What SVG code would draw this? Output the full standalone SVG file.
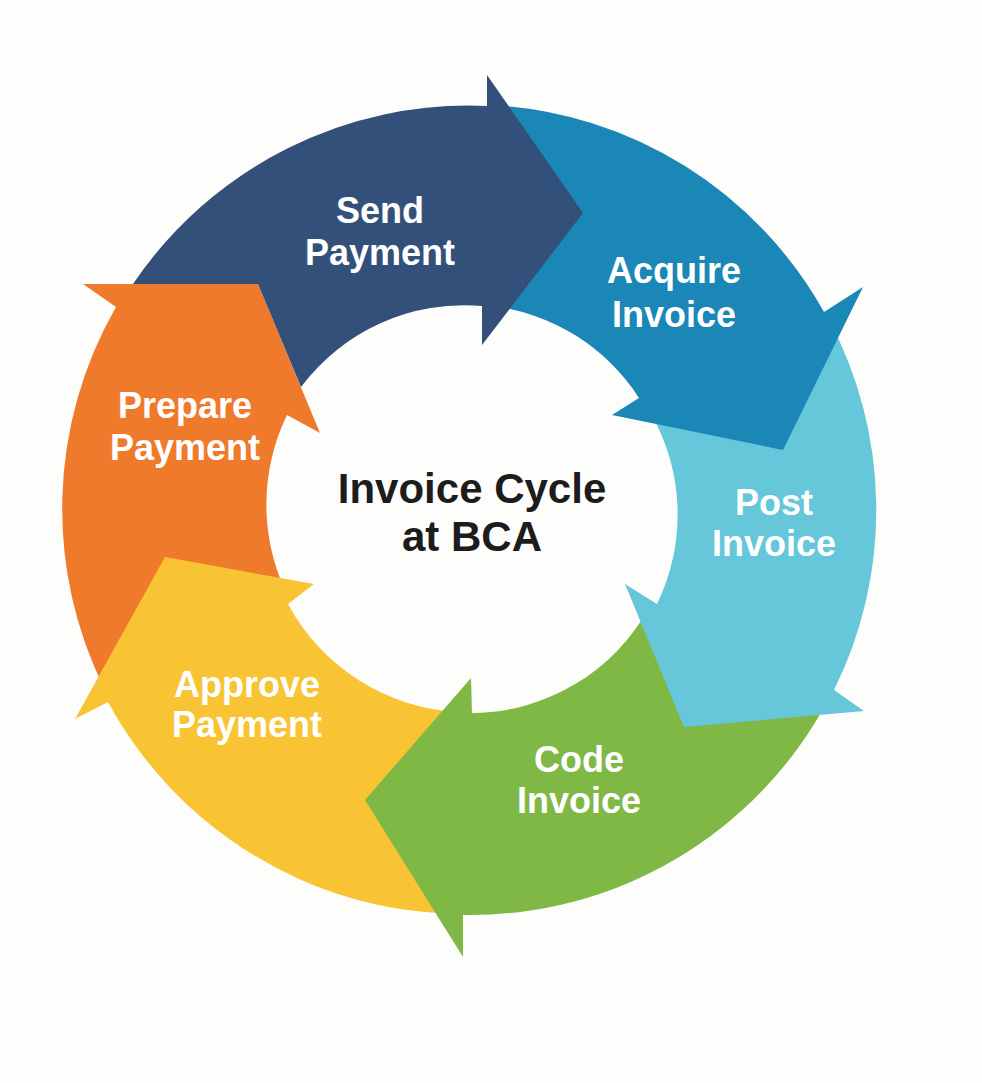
<svg xmlns="http://www.w3.org/2000/svg" width="982" height="1083" viewBox="0 0 982 1083">
<style>
.lbl{font-family:"Liberation Sans",Arial,Helvetica,sans-serif;font-weight:bold;font-size:36px;fill:#ffffff;text-anchor:middle}
.title{font-family:"Liberation Sans",Arial,Helvetica,sans-serif;font-weight:bold;font-size:42px;fill:#1c1c1c;text-anchor:middle}
</style>
<rect x="0" y="0" width="982" height="1083" fill="#fdfdfc"/>
<g id="prepare-payment">
<path fill="#f07a2c" d="M285,590 L105,690 A405,405 0 0 1 116,307 L83,284 L258,284 L320,433 L287,415 A205,205 0 0 0 285,590 Z"/>
<text class="lbl" x="185" y="418">Prepare</text>
<text class="lbl" x="185" y="460">Payment</text>
</g>
<g id="approve-payment">
<path fill="#f9c433" d="M460,712 L455,914 A405,405 0 0 1 108,702 L75,719 L165,557 L314,584 L288,604 A205,205 0 0 0 460,712 Z"/>
<text class="lbl" x="247" y="697">Approve</text>
<text class="lbl" x="247" y="737">Payment</text>
</g>
<g id="code-invoice">
<path fill="#80b846" d="M650,606 L828,700 A405,405 0 0 1 463,915 L463,957 L365,800 L471,678 L472,713 A204,204 0 0 0 650,606 Z"/>
<text class="lbl" x="579" y="772">Code</text>
<text class="lbl" x="579" y="813">Invoice</text>
</g>
<g id="post-invoice">
<path fill="#66c7da" d="M650,412 L828,318 A405,405 0 0 1 834,690 L864,711 L684,727 L625,584 L657,604 A204,204 0 0 0 650,412 Z"/>
<text class="lbl" x="774" y="515">Post</text>
<text class="lbl" x="774" y="556">Invoice</text>
</g>
<g id="acquire-invoice">
<path fill="#1b87b6" d="M492,306 L492,105 A405,405 0 0 1 824,312 L863,287 L783,450 L612,415 L639,398 A204,204 0 0 0 492,306 Z"/>
<text class="lbl" x="674" y="283">Acquire</text>
<text class="lbl" x="674" y="327">Invoice</text>
</g>
<g id="send-payment">
<path fill="#33507a" d="M301,387 L258,284 L133,284 A405,405 0 0 1 487,106 L487,75 L583,213 L482,345 L482,306 A204,204 0 0 0 301,387 Z"/>
<text class="lbl" x="380" y="223">Send</text>
<text class="lbl" x="380" y="265">Payment</text>
</g>
<g id="center-title">
<text class="title" x="472" y="503">Invoice Cycle</text>
<text class="title" x="472" y="551">at BCA</text>
</g>
</svg>
